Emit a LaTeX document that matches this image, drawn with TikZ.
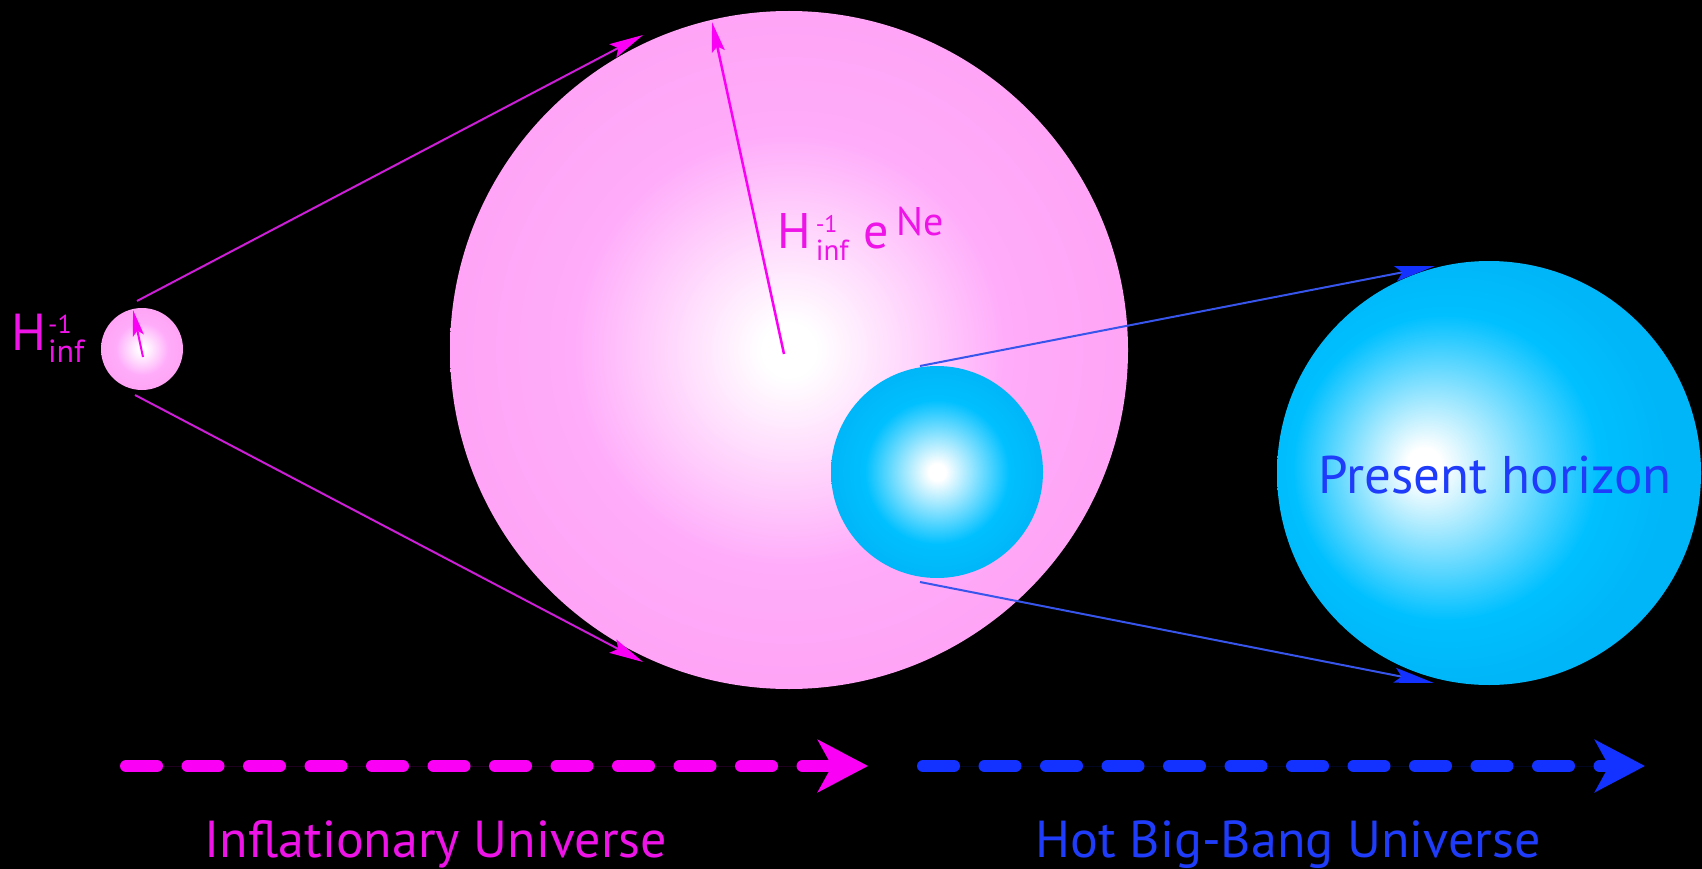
\documentclass[tikz,border=0pt]{standalone}
\usepackage{fontspec}
\setmainfont{PT Sans}
\usetikzlibrary{arrows.meta}
\definecolor{pinkT}{RGB}{238,20,232}
\definecolor{blueT}{RGB}{30,60,250}
\definecolor{pinkL}{RGB}{205,30,215}
\definecolor{pinkH}{RGB}{250,0,245}
\definecolor{blueL}{RGB}{55,85,235}
\definecolor{blueH}{RGB}{20,50,255}
\definecolor{pinkS}{RGB}{255,172,250}
\definecolor{pinkE}{RGB}{255,164,246}
\definecolor{cyanS}{RGB}{0,192,255}
\definecolor{cyanE}{RGB}{0,182,248}
\pgfdeclareradialshading{pinkball}{\pgfpoint{0bp}{0bp}}{color(0bp)=(white); color(2bp)=(white); color(16bp)=(pinkS); color(25bp)=(pinkE); color(50bp)=(pinkE)}
\pgfdeclareradialshading{cyanballsmall}{\pgfpoint{0bp}{0bp}}{color(0bp)=(white); color(2bp)=(white); color(17bp)=(cyanS); color(25bp)=(cyanE); color(50bp)=(cyanE)}
\pgfdeclareradialshading{cyanballbig}{\pgfpoint{-8bp}{1bp}}{color(0bp)=(white); color(2bp)=(white); color(18bp)=(cyanS); color(25bp)=(cyanE); color(50bp)=(cyanE)}
\tikzset{
  ball/.style={circle, inner sep=0pt, outer sep=0pt},
  pinkcon/.style={draw=pinkL, line width=2pt, -{Stealth[length=34pt,width=15pt,inset=6pt,color=pinkH]}},
  bluecon/.style={draw=blueL, line width=2pt, -{Stealth[length=40pt,width=15pt,inset=7pt,color=blueH]}},
  radarrow/.style={draw=pinkH, line width=2.5pt, -{Stealth[length=30pt,width=13pt,inset=5pt]}},
  timearrow/.style={line width=12pt, line cap=round, dash pattern=on 31pt off 30.5pt, -{Stealth[length=50pt,width=52pt,inset=14pt,line cap=butt]}},
  scr/.style={},
}
\begin{document}
\begin{tikzpicture}[x=1pt,y=-1pt]
\fill[black] (0,0) rectangle (1702,869);
\useasboundingbox (0,0) rectangle (1702,869);
% spheres
\node[ball, minimum size=82pt, shading=pinkball] (small) at (142,349) {};
\node[ball, minimum size=678pt, shading=pinkball] (big) at (789,350) {};
\node[ball, minimum size=212pt, shading=cyanballsmall] (cyan) at (937,472) {};
\node[ball, minimum size=424pt, shading=cyanballbig] (horizon) at (1489,473) {};
% connector ends
\coordinate (p1) at (137,301);
\coordinate (p2) at (643,35);
\coordinate (p3) at (135,395);
\coordinate (p4) at (643,662);
\coordinate (b1) at (920,366);
\coordinate (b2) at (1435,266);
\coordinate (b3) at (920,582);
\coordinate (b4) at (1434,683);
\coordinate (r0) at (784,354);
\coordinate (r1) at (712,22);
\coordinate (s0) at (143,357);
\coordinate (s1) at (133,310);
\draw[pinkcon] (p1) -- (p2);
\draw[pinkcon] (p3) -- (p4);
\draw[bluecon] (b1) -- (b2);
\draw[bluecon] (b3) -- (b4);
\draw[radarrow] (r0) -- (r1);
\draw[draw=pinkH, line width=2pt, -{Stealth[length=26pt,width=11pt,inset=5pt]}] (s0) -- (s1);
% labels
\node[anchor=base west, inner sep=0pt, text=pinkT, font=\fontsize{52}{54}\selectfont] (lsmall) at (11,350)
  {H\kern2pt\rlap{\raisebox{17pt}{\fontsize{26}{26}\selectfont -1}}\raisebox{-12pt}{\fontsize{32}{32}\selectfont inf}};
\node[anchor=base west, inner sep=0pt, text=pinkT, font=\fontsize{50}{52}\selectfont] (lbig) at (777,248)
  {H\kern5pt\rlap{\raisebox{16pt}{\fontsize{24}{24}\selectfont -1}}\raisebox{-12pt}{\fontsize{29}{29}\selectfont inf}\hspace{15pt}e\hspace{7pt}\raisebox{13pt}{\fontsize{40}{40}\selectfont Ne}};
\node[anchor=base, inner sep=0pt, text=blueT, font=\fontsize{53}{55}\selectfont] (lhor) at (1495,493) {Present horizon};
% time arrows
\coordinate (t1) at (126,766);
\coordinate (t2) at (868,766);
\coordinate (t3) at (923,766);
\coordinate (t4) at (1645,766);
\draw[timearrow, draw=pinkH, fill=pinkH] (t1) -- (t2);
\draw[timearrow, draw=blueH, fill=blueH] (t3) -- (t4);
\node[anchor=base, inner sep=0pt, text=pinkT, font=\fontsize{52}{54}\selectfont] (linf) at (436,857) {Inflationary Universe};
\node[anchor=base, inner sep=0pt, text=blueT, font=\fontsize{52}{54}\selectfont] (lhot) at (1288,857) {Hot Big-Bang Universe};
\end{tikzpicture}
\end{document}
